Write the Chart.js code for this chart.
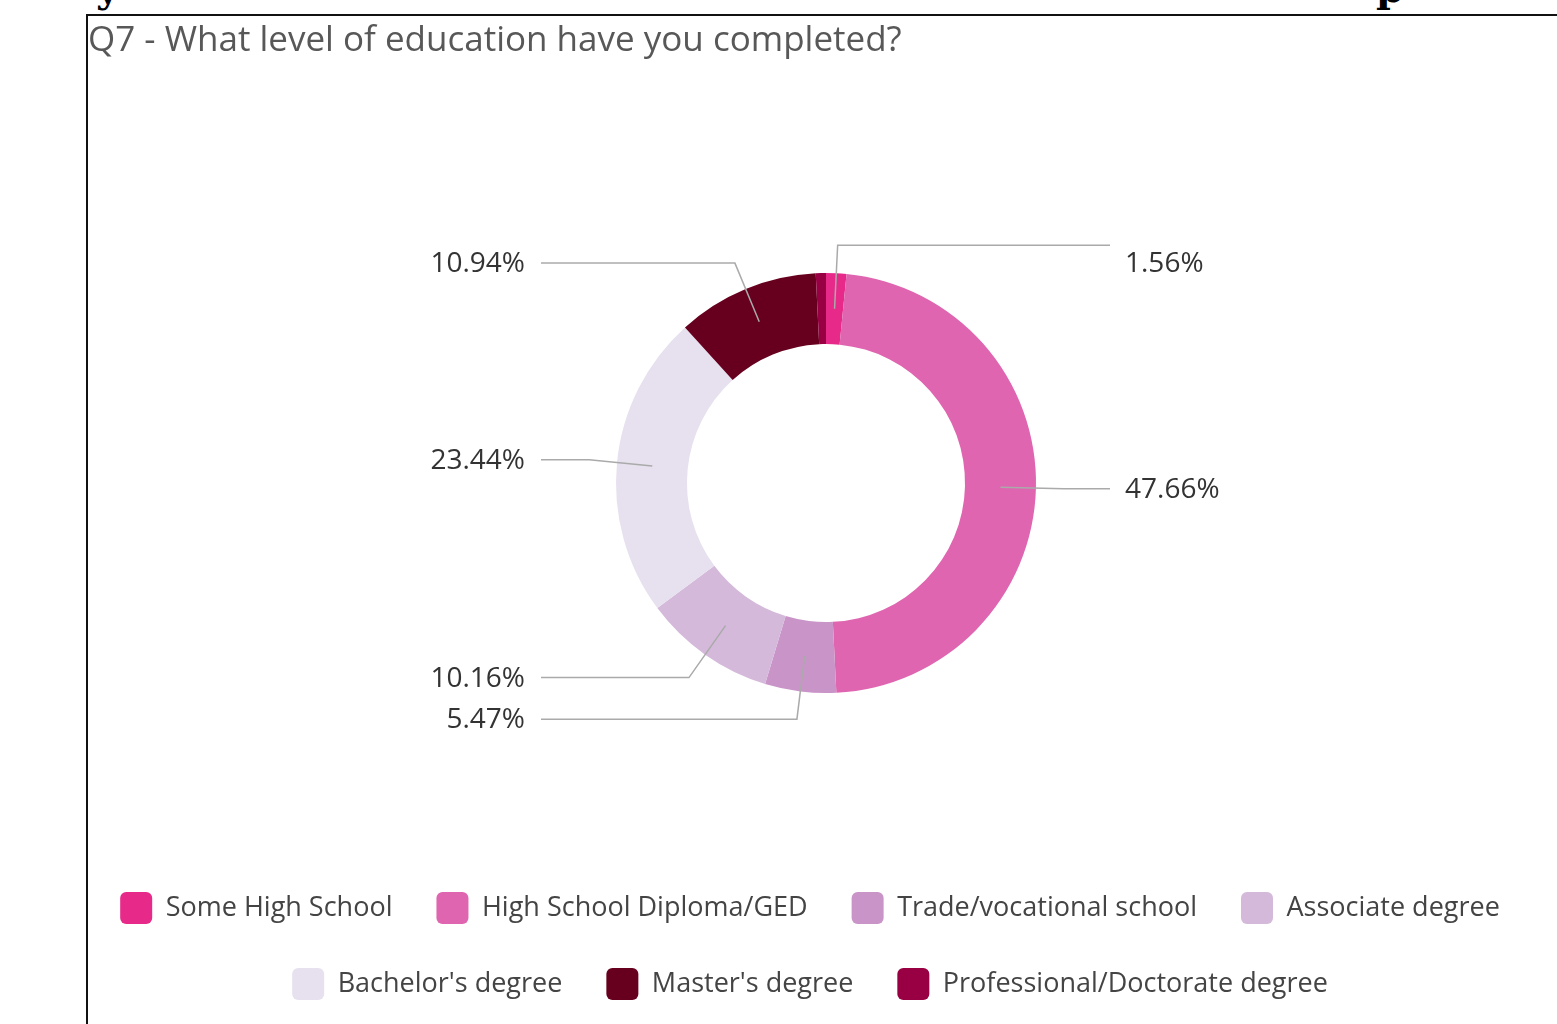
<!DOCTYPE html>
<html lang="en">
<head>
    <meta charset="UTF-8">
    <title>Q7 - What level of education have you completed?</title>
    <script src="https://cdn.jsdelivr.net/npm/chart.js"></script>
    <style>
        html, body {
            margin: 0;
            padding: 0;
            background: #fff;
        }
        body {
            width: 1557px;
            height: 1024px;
            position: relative;
            overflow: hidden;
        }
        #grafico {
            position: absolute;
            left: 0;
            top: 0;
        }
        /* page frame around the chart */
        #moldura {
            position: absolute;
            left: 86px;
            top: 14px;
            width: 1600px;
            height: 1100px;
            border-left: 2px solid #111;
            border-top: 2px solid #111;
            pointer-events: none;
        }
        /* cut-off text of the document above the chart */
        .corte {
            position: absolute;
            top: -32px;
            font-family: 'DejaVu Serif', serif;
            font-weight: bold;
            font-size: 40px;
            line-height: 40px;
            color: #000;
        }
    </style>
</head>
<body>

    <div class="corte" style="left: 96px;">y</div>
    <div class="corte" style="left: 1376px;">p</div>
    <canvas id="grafico" width="1564" height="1024"></canvas>
    <div id="moldura"></div>

    <script>
        // dados do grafico
        const categories = ['Some High School', 'High School Diploma/GED', 'Trade/vocational school',
            'Associate degree', "Bachelor's degree", "Master's degree", 'Professional/Doctorate degree'];
        const shares = [1.56, 47.66, 5.47, 10.16, 23.44, 10.94, 0.78];
        const sliceColors = ['#e7298a', '#df65b0', '#c994c7', '#d4b9da', '#e7e1ef', '#67001f', '#980043'];

        const FONTE = "'Open Sans', sans-serif";

        // leader lines + percentage labels
        const rotulos = {
            id: 'rotulos',
            afterDatasetsDraw(chart) {
                const ctx = chart.ctx;
                const meta = chart.getDatasetMeta(0);
                ctx.save();
                ctx.font = '28px ' + FONTE;
                ctx.textBaseline = 'middle';
                meta.data.forEach((arc, i) => {
                    if (shares[i] < 1) return;
                    const p = arc.getProps(['x', 'y', 'startAngle', 'endAngle', 'innerRadius', 'outerRadius'], true);
                    const meio = (p.startAngle + p.endAngle) / 2;
                    const rDentro = (p.innerRadius + p.outerRadius) / 2;
                    const rFora = p.outerRadius + 28;
                    const x1 = p.x + Math.cos(meio) * rDentro;
                    const y1 = p.y + Math.sin(meio) * rDentro;
                    const x2 = p.x + Math.cos(meio) * rFora;
                    const y2 = p.y + Math.sin(meio) * rFora;
                    const direita = Math.cos(meio) >= 0;
                    const xFim = direita ? p.x + 284 : p.x - 285;

                    ctx.strokeStyle = '#aaaaaa';
                    ctx.lineWidth = 1.5;
                    ctx.beginPath();
                    ctx.moveTo(x1, y1);
                    ctx.lineTo(x2, y2);
                    ctx.lineTo(xFim, y2);
                    ctx.stroke();

                    const yTexto = Math.max(y2, p.y - 220);
                    ctx.fillStyle = '#333';
                    ctx.textAlign = direita ? 'left' : 'right';
                    ctx.fillText(shares[i].toFixed(2) + '%', direita ? xFim + 15 : xFim - 16, yTexto + 1);
                });
                ctx.restore();
            }
        };

        // centre the legend rows under the frame, not the doughnut
        const ajusteLegenda = {
            id: 'ajusteLegenda',
            afterLayout(chart) {
                chart.legend.left -= 16;
                chart.legend.right -= 16;
            }
        };

        const ctx = document.getElementById('grafico').getContext('2d');
        const grafico = new Chart(ctx, {
            type: 'doughnut',
            data: {
                labels: categories,
                datasets: [{
                    data: shares,
                    backgroundColor: sliceColors,
                    borderWidth: 0
                }]
            },
            options: {
                responsive: false,
                animation: false,
                events: [],
                radius: 210,
                cutout: '66.2%',
                layout: {
                    padding: { left: 88, right: 0, top: 14, bottom: 14 }
                },
                plugins: {
                    title: {
                        display: true,
                        text: 'Q7 - What level of education have you completed?',
                        align: 'start',
                        color: '#585858',
                        font: { family: FONTE, size: 35, weight: 'normal' },
                        padding: { top: 6, bottom: 56 }
                    },
                    legend: {
                        position: 'bottom',
                        labels: {
                            color: '#444',
                            font: { family: FONTE, size: 27 },
                            boxWidth: 32,
                            boxHeight: 32,
                            useBorderRadius: true,
                            borderRadius: 6,
                            padding: 44
                        }
                    },
                    tooltip: { enabled: false }
                }
            },
            plugins: [rotulos, ajusteLegenda]
        });
    </script>

</body>
</html>
